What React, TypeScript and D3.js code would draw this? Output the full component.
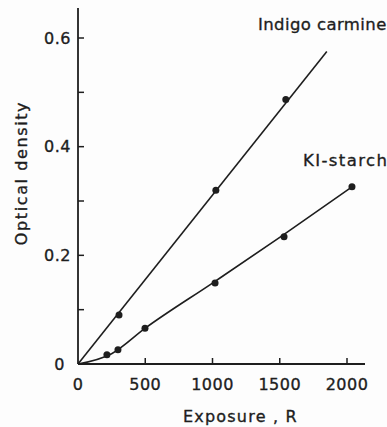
import { useEffect, useRef } from 'react'
import * as d3 from 'd3'

const indigoPoints: [number, number][] = [[305, 0.09], [1025, 0.32], [1545, 0.487]]
const indigoFit: [number, number][] = [[0, 0], [1850, 0.575]]
const kiPoints: [number, number][] = [[215, 0.017], [297, 0.026], [498, 0.066], [1019, 0.149], [1532, 0.234], [2037, 0.326]]
const kiFit: [number, number][] = [[0, 0], [250, 0.019], [500, 0.066], [1000, 0.149], [1500, 0.233], [2037, 0.326]]
const xTicks = [500, 1000, 1500, 2000]
const xTickLabels = ['0', '500', '1000', '1500', '2000']
const yTicks = [0.1, 0.2, 0.3, 0.4, 0.5, 0.6]
const yTickLabels = [0, 0.2, 0.4, 0.6]

const W = 387
const H = 427
const INK = '#1e1e1e'
const FONT = 'DejaVu Sans, sans-serif'

export default function App() {
  const svgRef = useRef<SVGSVGElement>(null)

  useEffect(() => {
    if (!svgRef.current) return
    const svg = d3.select(svgRef.current)
    svg.selectAll('*').remove()

    const x = d3.scaleLinear().domain([0, 2000]).range([78, 347])
    const y = d3.scaleLinear().domain([0, 0.6]).range([364, 38])

    svg.append('rect').attr('width', W).attr('height', H).attr('fill', '#fdfdfd')

    // axes frame
    svg.append('line')
      .attr('x1', x(0)).attr('x2', x(0))
      .attr('y1', y(0)).attr('y2', 8)
      .attr('stroke', INK).attr('stroke-width', 1.8)
    svg.append('line')
      .attr('x1', x(0)).attr('x2', 365)
      .attr('y1', y(0)).attr('y2', y(0))
      .attr('stroke', INK).attr('stroke-width', 1.8)

    // inward ticks
    svg.selectAll('.xt').data(xTicks).join('line')
      .attr('x1', d => x(d)).attr('x2', d => x(d))
      .attr('y1', y(0)).attr('y2', y(0) - 6)
      .attr('stroke', INK).attr('stroke-width', 1.5)
    svg.selectAll('.yt').data(yTicks).join('line')
      .attr('x1', x(0)).attr('x2', x(0) + 6)
      .attr('y1', d => y(d)).attr('y2', d => y(d))
      .attr('stroke', INK).attr('stroke-width', 1.5)

    // all text a touch heavier, like the printed original
    const ink = (t: d3.Selection<any, any, any, any>) =>
      t.attr('fill', INK).attr('stroke', INK).attr('stroke-width', 0.35)
        .attr('font-family', FONT)

    // tick labels
    svg.selectAll('.xl').data(xTickLabels).join('text')
      .attr('x', d => x(+d))
      .attr('y', 390)
      .attr('text-anchor', 'middle')
      .attr('font-size', 16)
      .attr('letter-spacing', 0.5)
      .call(ink)
      .text(d => d)
    svg.selectAll('.yl').data(yTickLabels).join('text')
      .attr('x', d => (d === 0 ? 65 : 71))
      .attr('y', d => y(d))
      .attr('dy', '0.36em')
      .attr('text-anchor', 'end')
      .attr('font-size', 16)
      .attr('letter-spacing', 0.5)
      .call(ink)
      .text(d => (d === 0 ? '0' : d.toFixed(1)))

    // axis titles
    svg.append('text')
      .attr('x', 183).attr('y', 422)
      .attr('font-size', 16)
      .attr('letter-spacing', 1.2)
      .call(ink)
      .text('Exposure , R')
    svg.append('text')
      .attr('transform', 'translate(27,173) rotate(-90)')
      .attr('text-anchor', 'middle')
      .attr('font-size', 16)
      .attr('letter-spacing', 1.6)
      .call(ink)
      .text('Optical density')

    // fitted lines
    const line = d3.line<[number, number]>()
      .x(d => x(d[0])).y(d => y(d[1]))
    svg.append('path').datum(indigoFit)
      .attr('d', line)
      .attr('fill', 'none').attr('stroke', INK).attr('stroke-width', 1.6)
    svg.append('path').datum(kiFit)
      .attr('d', line.curve(d3.curveMonotoneX))
      .attr('fill', 'none').attr('stroke', INK).attr('stroke-width', 1.6)

    // measured points
    svg.selectAll('.pi').data([...indigoPoints, ...kiPoints]).join('circle')
      .attr('cx', d => x(d[0])).attr('cy', d => y(d[1]))
      .attr('r', 3.5)
      .attr('fill', INK)

    // series labels
    svg.append('text')
      .attr('x', 258).attr('y', 30)
      .attr('font-size', 16.5)
      .attr('letter-spacing', 0.4)
      .call(ink)
      .text('Indigo carmine')
    svg.append('text')
      .attr('x', 303).attr('y', 166)
      .attr('font-size', 16.5)
      .attr('letter-spacing', 1.4)
      .call(ink)
      .text('KI-starch')
  }, [])

  return (
    <div style={{ position: 'absolute', left: 0, top: 0 }}>
      <svg ref={svgRef} width={W} height={H} style={{ display: 'block' }} />
    </div>
  )
}
